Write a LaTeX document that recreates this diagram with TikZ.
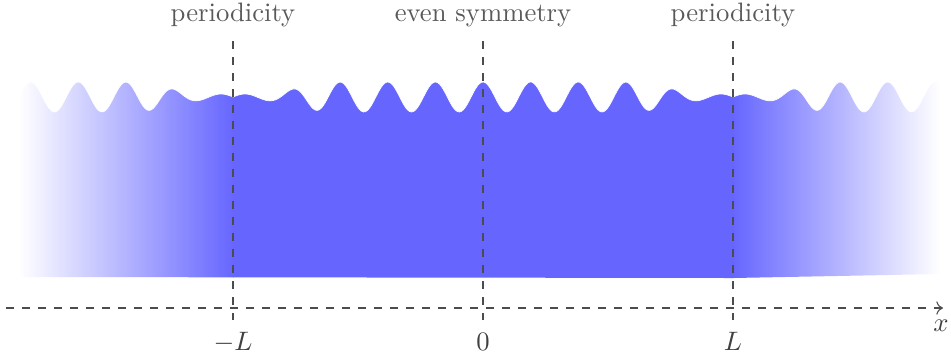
\documentclass[tikz,border=0pt]{standalone}
\usetikzlibrary{arrows.meta}
\begin{document}
\begin{tikzpicture}[x=0.375pt,y=0.375pt,
  declare function={
    uu(\x)=(abs(\x)<=250)*abs(\x)+(abs(\x)>250)*(500-abs(\x));
    dd(\x)=abs(250-abs(\x));
    env(\x)=0.2+0.8*(1-exp(-min((\x/70)^4,9)));
    wave(\x)=263+15*env(dd(\x-483))*cos(7.56*uu(\x-483));
  },
  guide/.style={draw=black!70, line width=0.4pt, dash pattern=on 3pt off 3pt},
  lab/.style={text=black!65, inner sep=0pt, anchor=base},
  mlab/.style={text=black!75, inner sep=0pt, anchor=base}]
\useasboundingbox (0,0) rectangle (951,360);
% filled wave region
\begin{scope}
  \clip (19,83) -- plot[domain=19:940,samples=461] (\x,{wave(\x)}) -- (940,86) -- (733,82) -- cycle;
  \shade[left color=white, right color=blue!60] (19,70) rectangle (233.6,290);
  \fill[blue!60] (233,70) rectangle (733,290);
  \shade[left color=blue!60, right color=white] (732.4,70) rectangle (940,290);
\end{scope}
\draw[white, line width=0.25pt] plot[domain=19:940,samples=461] (\x,{wave(\x)});
% guides
\coordinate (gLt) at (233,319); \coordinate (gLb) at (233,40);
\coordinate (g0t) at (483,319); \coordinate (g0b) at (483,40);
\coordinate (gRt) at (733,319); \coordinate (gRb) at (733,40);
\draw[guide] (gLt) -- (gLb);
\draw[guide] (g0t) -- (g0b);
\draw[guide] (gRt) -- (gRb);
% axis
\coordinate (axL) at (6,52); \coordinate (axR) at (943,52);
\draw[guide, -{To[length=2.5pt,width=5pt]}] (axL) -- (axR);
% labels
\node[lab] (perL) at (233,339) {periodicity};
\node[lab] (even) at (483,339) {even symmetry};
\node[lab] (perR) at (733,339) {periodicity};
\node[mlab] (mL) at (233,10) {$-L$};
\node[mlab] (zero) at (483,10) {$0$};
\node[mlab] (pL) at (733,10) {$L$};
\node[mlab] (xl) at (941,29) {$x$};
\end{tikzpicture}
\end{document}
